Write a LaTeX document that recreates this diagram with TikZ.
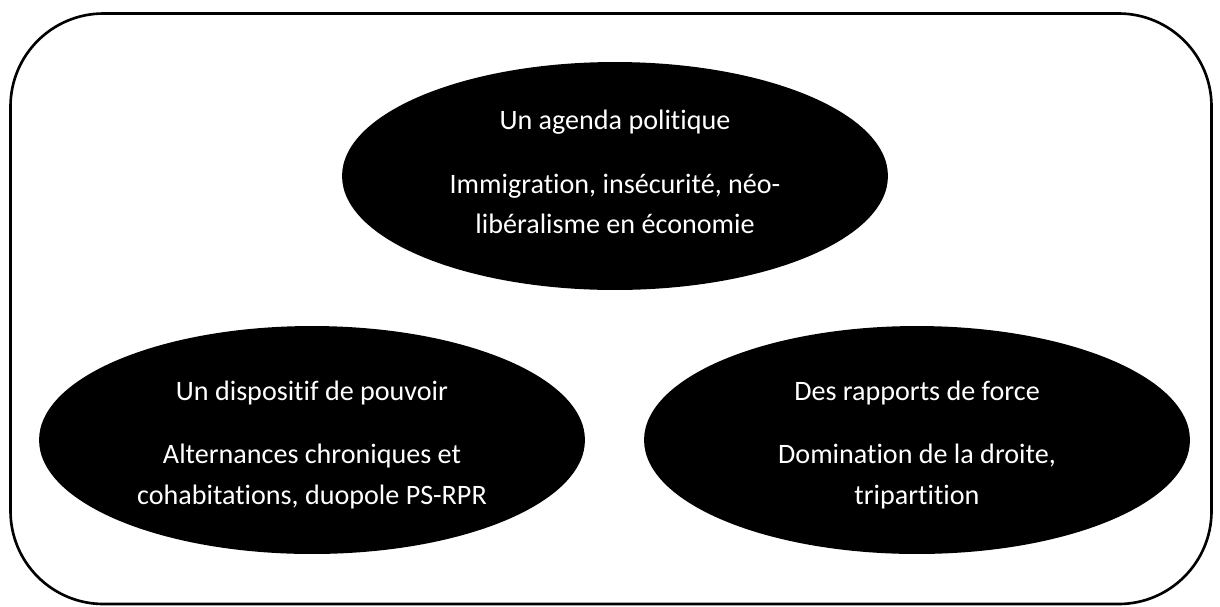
\documentclass[tikz,border=0pt]{standalone}
\usepackage{fontspec}
\setmainfont[Ligatures=NoCommon]{Carlito}
\usetikzlibrary{shapes.geometric}

\tikzset{
  bulle/.style={ellipse,fill=black,inner sep=0pt,
    minimum width=10.92cm,minimum height=4.56cm},
  texte/.style={text=white,inner sep=0pt,align=center,
    font=\fontsize{16}{23}\selectfont},
  cadre/.style={line width=1.5pt,rounded corners=1.86cm}
}

\begin{document}
\begin{tikzpicture}[line cap=round,line join=round,x=0.02cm,y=-0.02cm]
\useasboundingbox (0,0) rectangle (1220,606);
\draw[cadre] (10.5,13.5) rectangle (1211.5,604);
% les trois ellipses
\node[bulle] (agenda) at (615,176) {};
\node[bulle] (dispositif) at (312,440) {};
\node[bulle] (rapports) at (917,440) {};
% textes
\node[texte] (agenda-t) at (615,172)
  {Un agenda politique\\[13pt]Immigration, insécurité, néo-\\libéralisme en économie};
\node[texte] (dispositif-t) at (312,445)
  {Un dispositif de pouvoir\\[13pt]Alternances chroniques et\\cohabitations, duopole PS-RPR};
\node[texte] (rapports-t) at (917,445)
  {Des rapports de force\\[13pt]Domination de la droite,\\tripartition};
\end{tikzpicture}
\end{document}
